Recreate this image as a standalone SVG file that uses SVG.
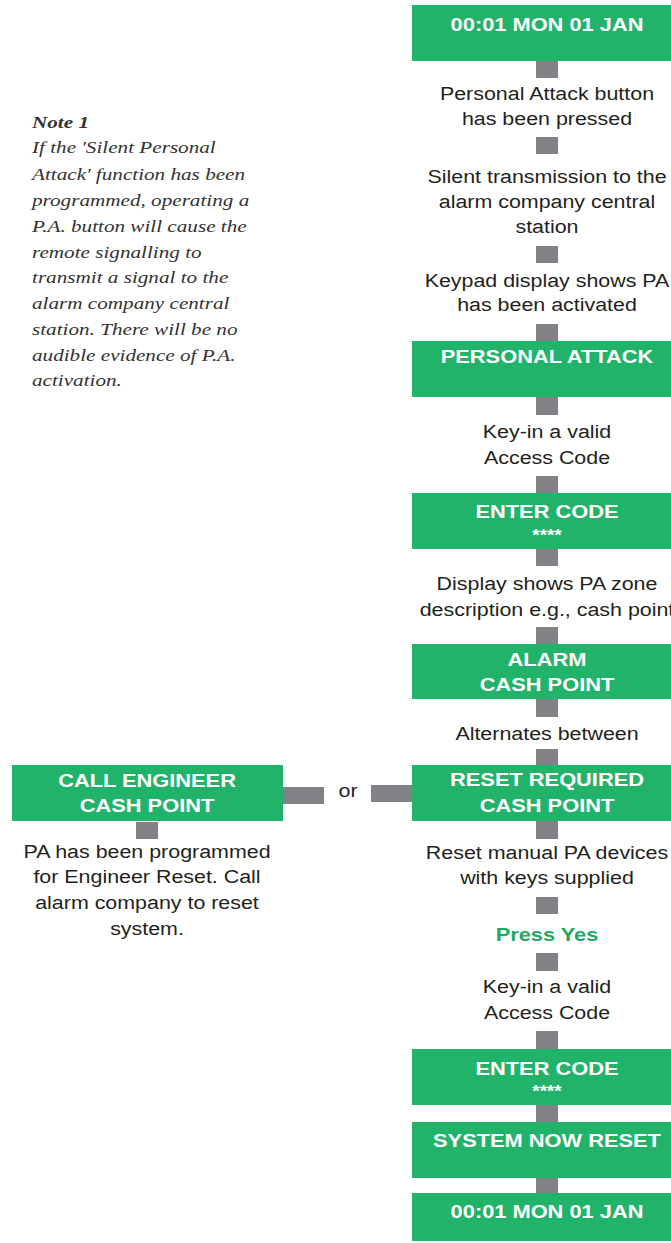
<svg xmlns="http://www.w3.org/2000/svg" width="671" height="1243" viewBox="0 0 671 1243">
<style>
.box{fill:#22b36b}
.con{fill:#808285}
.bt{font-family:"Liberation Sans",Arial,sans-serif;font-weight:bold;font-size:18.5px;fill:#ffffff;text-anchor:middle}
.st{font-family:"Liberation Sans",Arial,sans-serif;font-weight:bold;font-size:16px;fill:#ffffff;text-anchor:middle}
.t{font-family:"Liberation Sans",Arial,sans-serif;font-size:18px;fill:#231f20;text-anchor:middle}
.g{font-family:"Liberation Sans",Arial,sans-serif;font-weight:bold;font-size:18.5px;fill:#21a95f;text-anchor:middle}
.n{font-family:"Liberation Serif","Times New Roman",serif;font-style:italic;font-size:17.5px;fill:#333333}
</style>
<rect width="671" height="1243" fill="#ffffff"/>
<g id="connectors">
<rect class="con" x="536" y="61" width="22" height="17"/>
<rect class="con" x="536" y="137" width="22" height="17"/>
<rect class="con" x="536" y="246" width="22" height="17"/>
<rect class="con" x="536" y="324" width="22" height="17"/>
<rect class="con" x="536" y="397" width="22" height="18"/>
<rect class="con" x="536" y="476" width="22" height="17"/>
<rect class="con" x="536" y="549" width="22" height="17"/>
<rect class="con" x="536" y="627" width="22" height="17"/>
<rect class="con" x="536" y="699" width="22" height="18"/>
<rect class="con" x="536" y="749" width="22" height="16"/>
<rect class="con" x="280" y="787" width="44" height="17"/>
<rect class="con" x="371" y="785" width="44" height="17"/>
<rect class="con" x="136" y="822" width="22" height="17"/>
<rect class="con" x="536" y="821" width="22" height="18"/>
<rect class="con" x="536" y="897" width="22" height="17"/>
<rect class="con" x="536" y="953" width="22" height="18"/>
<rect class="con" x="536" y="1031" width="22" height="18"/>
<rect class="con" x="536" y="1105" width="22" height="17"/>
<rect class="con" x="536" y="1178" width="22" height="15"/>
<g transform="translate(348 0) scale(1.19 1)"><text class="t" x="0" y="797">or</text></g>
</g>
<g id="note" transform="translate(32 0) scale(1.21 1)">
<text class="n" x="0" y="128" font-weight="bold">Note 1</text>
<text class="n" x="0" y="153">If the 'Silent Personal</text>
<text class="n" x="0" y="180">Attack' function has been</text>
<text class="n" x="0" y="206">programmed, operating a</text>
<text class="n" x="0" y="232">P.A. button will cause the</text>
<text class="n" x="0" y="258">remote signalling to</text>
<text class="n" x="0" y="283">transmit a signal to the</text>
<text class="n" x="0" y="309">alarm company central</text>
<text class="n" x="0" y="335">station. There will be no</text>
<text class="n" x="0" y="361">audible evidence of P.A.</text>
<text class="n" x="0" y="386">activation.</text>
</g>
<g id="n1"><rect class="box" x="412" y="5" width="259" height="56"/><g transform="translate(547 0) scale(1.18 1)"><text class="bt" x="0" y="31">00:01 MON 01 JAN</text></g></g>
<g id="n2"><g transform="translate(547 0) scale(1.19 1)"><text class="t" x="0" y="100">Personal Attack button</text><text class="t" x="0" y="125">has been pressed</text></g></g>
<g id="n3"><g transform="translate(547 0) scale(1.19 1)"><text class="t" x="0" y="183">Silent transmission to the</text><text class="t" x="0" y="208">alarm company central</text><text class="t" x="0" y="233">station</text></g></g>
<g id="n4"><g transform="translate(547 0) scale(1.19 1)"><text class="t" x="0" y="287">Keypad display shows PA</text><text class="t" x="0" y="311">has been activated</text></g></g>
<g id="n5"><rect class="box" x="412" y="341" width="259" height="56"/><g transform="translate(547 0) scale(1.18 1)"><text class="bt" x="0" y="363">PERSONAL ATTACK</text></g></g>
<g id="n6"><g transform="translate(547 0) scale(1.19 1)"><text class="t" x="0" y="438">Key-in a valid</text><text class="t" x="0" y="464">Access Code</text></g></g>
<g id="n7"><rect class="box" x="412" y="493" width="259" height="56"/><g transform="translate(547 0) scale(1.18 1)"><text class="bt" x="0" y="518">ENTER CODE</text><text class="st" x="0" y="541">****</text></g></g>
<g id="n8"><g transform="translate(547 0) scale(1.19 1)"><text class="t" x="0" y="590">Display shows PA zone</text><text class="t" x="0" y="616">description e.g., cash point</text></g></g>
<g id="n9"><rect class="box" x="412" y="644" width="259" height="55"/><g transform="translate(547 0) scale(1.18 1)"><text class="bt" x="0" y="666">ALARM</text><text class="bt" x="0" y="691">CASH POINT</text></g></g>
<g id="n10"><g transform="translate(547 0) scale(1.19 1)"><text class="t" x="0" y="740">Alternates between</text></g></g>
<g id="n11"><rect class="box" x="412" y="765" width="259" height="56"/><g transform="translate(547 0) scale(1.18 1)"><text class="bt" x="0" y="786">RESET REQUIRED</text><text class="bt" x="0" y="812">CASH POINT</text></g></g>
<g id="n12"><rect class="box" x="12" y="765" width="271" height="56"/><g transform="translate(147 0) scale(1.18 1)"><text class="bt" x="0" y="787">CALL ENGINEER</text><text class="bt" x="0" y="812">CASH POINT</text></g></g>
<g id="n13"><g transform="translate(147 0) scale(1.19 1)"><text class="t" x="0" y="858">PA has been programmed</text><text class="t" x="0" y="883">for Engineer Reset. Call</text><text class="t" x="0" y="909">alarm company to reset</text><text class="t" x="0" y="935">system.</text></g></g>
<g id="n14"><g transform="translate(547 0) scale(1.19 1)"><text class="t" x="0" y="859">Reset manual PA devices</text><text class="t" x="0" y="884">with keys supplied</text></g></g>
<g id="n15"><g transform="translate(547 0) scale(1.18 1)"><text class="g" x="0" y="941">Press Yes</text></g></g>
<g id="n16"><g transform="translate(547 0) scale(1.19 1)"><text class="t" x="0" y="993">Key-in a valid</text><text class="t" x="0" y="1019">Access Code</text></g></g>
<g id="n17"><rect class="box" x="412" y="1049" width="259" height="56"/><g transform="translate(547 0) scale(1.18 1)"><text class="bt" x="0" y="1075">ENTER CODE</text><text class="st" x="0" y="1097">****</text></g></g>
<g id="n18"><rect class="box" x="412" y="1122" width="259" height="56"/><g transform="translate(547 0) scale(1.18 1)"><text class="bt" x="0" y="1147">SYSTEM NOW RESET</text></g></g>
<g id="n19"><rect class="box" x="412" y="1193" width="259" height="48"/><g transform="translate(547 0) scale(1.18 1)"><text class="bt" x="0" y="1218">00:01 MON 01 JAN</text></g></g>
</svg>
